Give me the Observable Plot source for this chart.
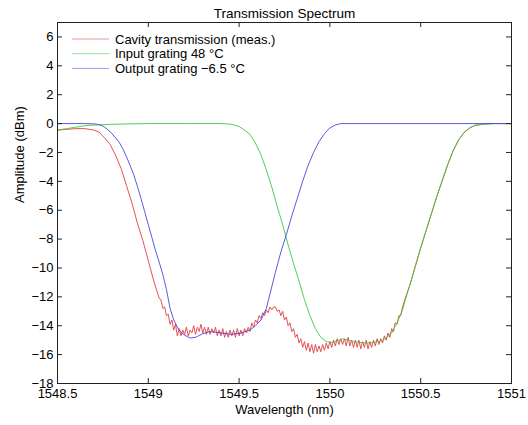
<!DOCTYPE html>
<html><head><meta charset="utf-8">
<script src="https://cdn.jsdelivr.net/npm/d3@7"></script>
<script src="https://cdn.jsdelivr.net/npm/@observablehq/plot@0.6"></script>
<style>body{margin:0;background:#fff} #chart svg{display:block}</style>
</head><body><div id="chart"></div>
<script>
const titleText = "Transmission Spectrum";
const xLabel = "Wavelength (nm)";
const yLabel = "Amplitude (dBm)";
const xTicks = [1548.5, 1549, 1549.5, 1550, 1550.5, 1551];
const yTicks = [-18, -16, -14, -12, -10, -8, -6, -4, -2, 0, 2, 4, 6];
const seriesNames = ["Cavity transmission (meas.)", "Input grating 48 °C", "Output grating \u22126.5 °C"];
const seriesColors = ["rgb(226,62,66)", "rgb(64,200,64)", "rgb(70,70,226)"];

// [wavelength nm, amplitude dBm]
const cavity = [
[1548.50,-0.45],[1548.55,-0.40],[1548.60,-0.35],[1548.65,-0.35],[1548.70,-0.45],[1548.73,-0.6],[1548.76,-1.0],
[1548.79,-1.45],[1548.82,-2.2],[1548.85,-3.1],[1548.88,-4.3],[1548.91,-5.5],[1548.94,-6.9],[1548.97,-8.1],
[1549.00,-9.5],[1549.03,-10.9],[1549.06,-12.1],
[1549.07,-12.2],[1549.08,-12.8],[1549.09,-12.7],[1549.10,-13.3],[1549.11,-13.2],[1549.12,-13.9],[1549.13,-13.6],
[1549.14,-14.3],[1549.15,-13.9],[1549.16,-14.7],[1549.17,-14.2],[1549.18,-14.7],[1549.19,-14.3],[1549.20,-14.6],
[1549.21,-14.1],[1549.22,-14.7],[1549.23,-14.3],[1549.24,-14.5],[1549.25,-14.0],[1549.26,-14.6],[1549.27,-14.1],
[1549.28,-14.4],[1549.29,-13.9],[1549.30,-14.5],[1549.31,-14.1],[1549.32,-14.6],[1549.33,-14.1],[1549.34,-14.6],
[1549.35,-14.2],[1549.36,-14.5],[1549.37,-14.1],[1549.38,-14.7],[1549.39,-14.3],[1549.40,-14.7],[1549.41,-14.2],
[1549.42,-14.8],[1549.43,-14.4],[1549.44,-14.8],[1549.45,-14.3],[1549.46,-14.7],[1549.47,-14.3],[1549.48,-14.8],
[1549.49,-14.2],[1549.50,-14.7],[1549.51,-14.3],[1549.52,-14.7],[1549.53,-14.2],[1549.54,-14.5],[1549.55,-14.1],
[1549.56,-14.4],[1549.57,-13.8],[1549.58,-14.1],[1549.59,-13.6],[1549.60,-13.8],[1549.61,-13.3],[1549.62,-13.5],
[1549.63,-13.1],[1549.64,-13.3],[1549.65,-12.9],[1549.66,-13.1],[1549.67,-12.7],[1549.68,-12.9],[1549.69,-12.7],
[1549.70,-12.7],[1549.71,-13.0],[1549.72,-12.9],[1549.73,-13.3],[1549.74,-13.0],[1549.75,-13.6],[1549.76,-13.4],
[1549.77,-14.0],[1549.78,-13.8],[1549.79,-14.4],[1549.80,-14.2],[1549.81,-14.8],[1549.82,-14.6],[1549.83,-15.2],
[1549.84,-14.9],[1549.85,-15.5],[1549.86,-15.1],[1549.87,-15.7],[1549.88,-15.2],[1549.89,-15.8],[1549.90,-15.3],
[1549.91,-15.9],[1549.92,-15.3],[1549.93,-15.8],[1549.94,-15.4],[1549.95,-15.8],[1549.96,-15.3],[1549.97,-15.7],
[1549.98,-15.2],[1549.99,-15.6],[1550.00,-15.1],[1550.01,-15.5],[1550.02,-15.0],[1550.03,-15.4],[1550.04,-14.9],
[1550.05,-15.3],[1550.06,-14.9],[1550.07,-15.3],[1550.08,-14.9],[1550.09,-15.4],[1550.10,-14.8],[1550.11,-15.4],
[1550.12,-15.0],[1550.13,-15.5],[1550.14,-15.0],[1550.15,-15.5],[1550.16,-15.0],[1550.17,-15.6],[1550.18,-15.1],
[1550.19,-15.5],[1550.20,-15.0],[1550.21,-15.6],[1550.22,-15.1],[1550.23,-15.5],[1550.24,-15.0],[1550.25,-15.4],
[1550.26,-14.9],[1550.27,-15.3],[1550.28,-14.9],[1550.29,-15.2],[1550.30,-14.7],[1550.31,-15.0],[1550.32,-14.5],
[1550.33,-14.8],[1550.34,-14.2],[1550.35,-14.4],[1550.36,-13.8],[1550.37,-13.9],[1550.38,-13.3],[1550.39,-13.3],
[1550.40,-12.7],[1550.42,-11.9],[1550.44,-11.2],[1550.47,-9.9],[1550.50,-8.6],[1550.53,-7.4],[1550.56,-6.2],
[1550.59,-5.0],[1550.62,-3.9],[1550.65,-2.8],[1550.68,-1.85],[1550.71,-1.1],[1550.74,-0.6],[1550.77,-0.3],
[1550.80,-0.12],[1550.85,-0.03],[1550.90,0],[1551.00,0]
];

const inputGrating = [
[1548.50,-0.45],[1548.55,-0.35],[1548.60,-0.25],[1548.65,-0.15],[1548.70,-0.1],[1548.80,-0.05],[1548.90,-0.02],
[1549.00,0],[1549.20,0],[1549.40,0],[1549.46,-0.05],[1549.50,-0.2],[1549.53,-0.45],[1549.56,-0.75],[1549.59,-1.35],
[1549.62,-2.15],[1549.65,-3.2],[1549.68,-4.4],[1549.71,-5.75],[1549.74,-7.0],[1549.77,-8.4],[1549.80,-9.7],
[1549.83,-10.9],[1549.86,-12.2],[1549.89,-13.3],[1549.92,-14.2],[1549.95,-14.8],[1549.98,-15.1],[1550.01,-15.15],
[1550.04,-15.05],[1550.07,-14.9],[1550.10,-15.0],[1550.13,-15.1],[1550.16,-15.15],[1550.20,-15.2],[1550.24,-15.15],
[1550.28,-15.05],[1550.31,-14.85],[1550.34,-14.5],[1550.37,-13.8],[1550.40,-12.9],[1550.42,-12.0],[1550.44,-11.2],
[1550.47,-9.9],[1550.50,-8.6],[1550.53,-7.4],[1550.56,-6.2],[1550.59,-5.0],[1550.62,-3.9],[1550.65,-2.8],
[1550.68,-1.85],[1550.71,-1.1],[1550.74,-0.6],[1550.77,-0.3],[1550.80,-0.12],[1550.85,-0.03],[1550.90,0],[1551.00,0]
];

const outputGrating = [
[1548.50,0],[1548.60,0],[1548.65,0],[1548.70,-0.02],[1548.72,-0.05],[1548.74,-0.12],[1548.76,-0.25],[1548.78,-0.45],
[1548.80,-0.7],[1548.82,-1.0],[1548.84,-1.3],[1548.86,-1.75],[1548.88,-2.3],[1548.90,-2.9],[1548.92,-3.55],
[1548.94,-4.35],[1548.96,-5.2],[1548.98,-6.1],[1549.00,-7.0],[1549.02,-7.9],[1549.04,-8.8],[1549.06,-9.6],
[1549.08,-10.45],[1549.10,-11.5],[1549.12,-12.8],[1549.14,-13.6],[1549.16,-14.1],[1549.18,-14.45],[1549.20,-14.65],
[1549.23,-14.85],[1549.26,-14.8],[1549.30,-14.55],[1549.34,-14.4],[1549.40,-14.5],[1549.46,-14.6],[1549.51,-14.5],
[1549.56,-14.3],[1549.59,-14.0],[1549.62,-13.6],[1549.65,-12.8],[1549.67,-11.8],[1549.70,-10.3],[1549.73,-8.9],
[1549.76,-7.7],[1549.79,-6.4],[1549.82,-5.2],[1549.85,-4.0],[1549.88,-2.9],[1549.91,-2.0],[1549.94,-1.25],
[1549.97,-0.7],[1550.00,-0.3],[1550.03,-0.1],[1550.06,0],[1550.50,0],[1551.00,0]
];

const W = 528, H = 425, mT = 22, mB = 42, mL = 57, mR = 17;
const iw = W - mL - mR, ih = H - mT - mB;
const fmt = d => d < 0 ? "\u2212" + Math.abs(d) : String(d);
const axisColor = "#222";
const font = "'Liberation Sans', Arial, Helvetica, sans-serif";

const lineOpts = (i) => ({x: d => d[0], y: d => d[1], stroke: seriesColors[i], strokeWidth: 0.9, clip: true});

const chart = Plot.plot({
  width: W, height: H, marginTop: mT, marginBottom: mB, marginLeft: mL, marginRight: mR,
  style: {fontFamily: font, fontSize: "13px", color: "#000", background: "#fff"},
  x: {domain: [1548.5, 1551]},
  y: {domain: [-18, 7]},
  marks: [
    Plot.line(cavity, lineOpts(0)),
    Plot.line(inputGrating, lineOpts(1)),
    Plot.line(outputGrating, lineOpts(2)),
    Plot.frame({stroke: axisColor, strokeWidth: 1}),
    Plot.tickX(xTicks, {x: d => d, insetTop: ih - 5, stroke: axisColor}),
    Plot.tickX(xTicks, {x: d => d, insetBottom: ih - 5, stroke: axisColor}),
    Plot.tickY(yTicks, {y: d => d, insetRight: iw - 5, stroke: axisColor}),
    Plot.tickY(yTicks, {y: d => d, insetLeft: iw - 5, stroke: axisColor}),
    Plot.axisX({ticks: xTicks, tickSize: 0, tickPadding: 5, tickFormat: d => String(d), label: null, fontSize: 13}),
    Plot.axisY({ticks: yTicks, tickSize: 0, tickPadding: 4, tickFormat: fmt, label: null, fontSize: 13}),
    Plot.text([titleText], {frameAnchor: "top", dy: -14, fontSize: 13.5}),
    Plot.text([xLabel], {frameAnchor: "bottom", dy: 30, fontSize: 13}),
    Plot.text([yLabel], {frameAnchor: "left", dx: -38, rotate: -90, fontSize: 13})
  ]
});

// legend (no box), top-left inside axes
const svg = d3.select(chart);
const lg = svg.append("g").attr("font-family", font).attr("font-size", 13).attr("text-anchor", "start");
seriesNames.forEach((name, i) => {
  const yy = 39 + i * 14.7;
  lg.append("line").attr("x1", 72).attr("x2", 109).attr("y1", yy).attr("y2", yy)
    .attr("stroke", seriesColors[i]).attr("stroke-width", 0.9).attr("stroke-opacity", 0.6);
  lg.append("text").attr("x", 115).attr("y", yy).attr("dy", "0.35em").attr("fill", "#000")
    .attr("text-anchor", "start").text(name);
});

document.getElementById("chart").append(chart);
</script>
</body></html>
